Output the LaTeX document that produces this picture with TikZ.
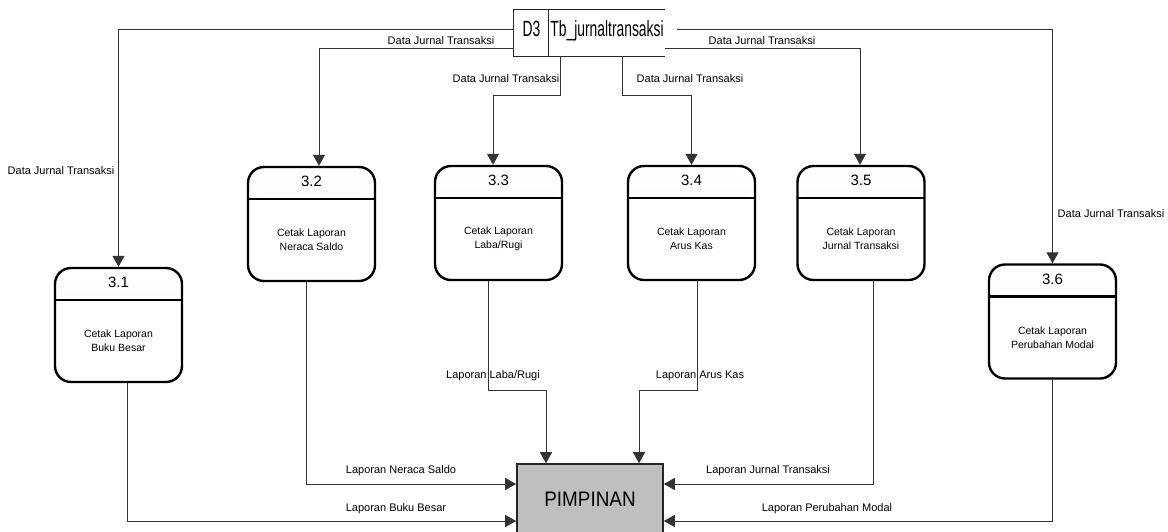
\documentclass[tikz,border=0pt]{standalone}
\usepackage{fontspec}
\setmainfont{Liberation Sans}
\newfontfamily\storefont[FakeStretch=0.63]{Liberation Sans}
\newfontfamily\entfont[FakeStretch=0.9]{Liberation Sans}
\usetikzlibrary{arrows.meta}
\usetikzlibrary{calc}

\begin{document}
\begin{tikzpicture}[x=1pt,y=-1pt,>={Triangle[width=12pt,length=11pt]},
      proc/.style={draw,line width=2.4pt,rounded corners=16pt,minimum width=127pt,
        minimum height=114pt,inner sep=0pt,
        path picture={\shade[top color=white,middle color=black!14,bottom color=black!5]
            (path picture bounding box.north west) rectangle ([yshift=-32pt]path picture bounding box.north east);
          \draw[line width=2.4pt] ([yshift=-32pt]path picture bounding box.north west)
            -- ([yshift=-32pt]path picture bounding box.north east);}},
      num/.style={font=\fontsize{15}{18}\selectfont,inner sep=0pt},
      desc/.style={font=\fontsize{10.5}{14}\selectfont,align=center,inner sep=0pt},
      lbl/.style={font=\fontsize{11}{12}\selectfont,inner sep=0pt},
      flow/.style={draw=black!80,line width=1pt,->},
      ent/.style={draw=black!85,fill=black!25,line width=1.6pt,minimum width=146pt,
        minimum height=71pt,inner sep=0pt,font=\entfont\fontsize{21}{24}\selectfont},
      storeline/.style={draw=black!85,line width=1.2pt},
      storetxt/.style={font=\storefont\fontsize{22}{24}\selectfont,inner sep=0pt}]
    \useasboundingbox (0,0) rectangle (1168,531);

    % data store
    \node[minimum width=151pt,minimum height=46pt,inner sep=0pt] (store) at (589.5,33) {};
    \draw[storeline] (store.north east) -- (store.north west) -- (store.south west) -- (store.south east);
    \draw[storeline] ([xshift=35pt]store.north west) -- ([xshift=35pt]store.south west);
    \node[storetxt,anchor=base] (storeid) at (531.5,36) {D3};
    \node[storetxt,anchor=base] (storename) at (607,36) {Tb\_jurnaltransaksi};

    % processes
    \node[proc] (p31) at (118.5,325) {};
    \node[num] (p31n) at ([yshift=-16pt]p31.north) {3.1};
    \node[desc] (p31t) at ([yshift=-16pt]p31.center) {Cetak Laporan\\Buku Besar};
    \node[proc] (p32) at (311.5,224) {};
    \node[num] (p32n) at ([yshift=-16pt]p32.north) {3.2};
    \node[desc] (p32t) at ([yshift=-16pt]p32.center) {Cetak Laporan\\Neraca Saldo};
    \node[proc] (p33) at (498.5,223) {};
    \node[num] (p33n) at ([yshift=-16pt]p33.north) {3.3};
    \node[desc] (p33t) at ([yshift=-16pt]p33.center) {Cetak Laporan\\Laba/Rugi};
    \node[proc] (p34) at (691.5,223) {};
    \node[num] (p34n) at ([yshift=-16pt]p34.north) {3.4};
    \node[desc] (p34t) at ([yshift=-16pt]p34.center) {Cetak Laporan\\Arus Kas};
    \node[proc] (p35) at (861,223) {};
    \node[num] (p35n) at ([yshift=-16pt]p35.north) {3.5};
    \node[desc] (p35t) at ([yshift=-16pt]p35.center) {Cetak Laporan\\Jurnal Transaksi};
    \node[proc] (p36) at (1052.5,321.5) {};
    \node[num] (p36n) at ([yshift=-16pt]p36.north) {3.6};
    \node[desc] (p36t) at ([yshift=-16pt]p36.center) {Cetak Laporan\\Perubahan Modal};

    % external entity
    \node[ent] (pimp) at (590,499.5) {PIMPINAN};
    \coordinate (pl1) at (pimp.west |- 0,484);
    \coordinate (pl2) at (pimp.west |- 0,521);
    \coordinate (pr1) at (pimp.east |- 0,484);
    \coordinate (pr2) at (pimp.east |- 0,521);
    \coordinate (pt1) at (pimp.north -| 546,0);
    \coordinate (pt2) at (pimp.north -| 639,0);
    \coordinate (s36) at ($(store.east |- 0,29)+(12,0)$);

    % data flows from the store
    \draw[flow] (store.west |- 0,29) -| (p31.north);
    \draw[flow] (store.west |- 0,48) -| ([xshift=7.5pt]p32.north);
    \draw[flow] ([xshift=-29.5pt]store.south) -- ++(0,39) -| ([xshift=-5.5pt]p33.north);
    \draw[flow] ([xshift=32.5pt]store.south) -- ++(0,39) -| (p34.north);
    \draw[flow] (store.east |- 0,48) -| ([xshift=-1pt]p35.north);
    \draw[flow] (s36) -| (p36.north);
    \node[lbl] (f31) at (61,171) {Data Jurnal Transaksi};
    \node[lbl] (f32) at (441,41) {Data Jurnal Transaksi};
    \node[lbl,anchor=east] (f33) at (559.5,79) {Data Jurnal Transaksi};
    \node[lbl] (f34) at (690,79) {Data Jurnal Transaksi};
    \node[lbl] (f35) at (762,41) {Data Jurnal Transaksi};
    \node[lbl] (f36) at (1111,214) {Data Jurnal Transaksi};

    % reports to PIMPINAN
    \draw[flow] ([xshift=8.5pt]p31.south) |- (pl2);
    \draw[flow] ([xshift=-5.5pt]p32.south) |- (pl1);
    \draw[flow] ([xshift=-10.5pt]p33.south) |- (pt1 |- 0,390) -- (pt1);
    \draw[flow] ([xshift=5.5pt]p34.south) |- (pt2 |- 0,390) -- (pt2);
    \draw[flow] ([xshift=12pt]p35.south) |- (pr1);
    \draw[flow] (p36.south) |- (pr2);
    \node[lbl] (r31) at (396,509) {Laporan Buku Besar};
    \node[lbl] (r32) at (401,471) {Laporan Neraca Saldo};
    \node[lbl] (r33) at (493,376) {Laporan Laba/Rugi};
    \node[lbl] (r34) at (700,376) {Laporan Arus Kas};
    \node[lbl] (r35) at (768,471) {Laporan Jurnal Transaksi};
    \node[lbl] (r36) at (827,509) {Laporan Perubahan Modal};
  \end{tikzpicture}
\end{document}
